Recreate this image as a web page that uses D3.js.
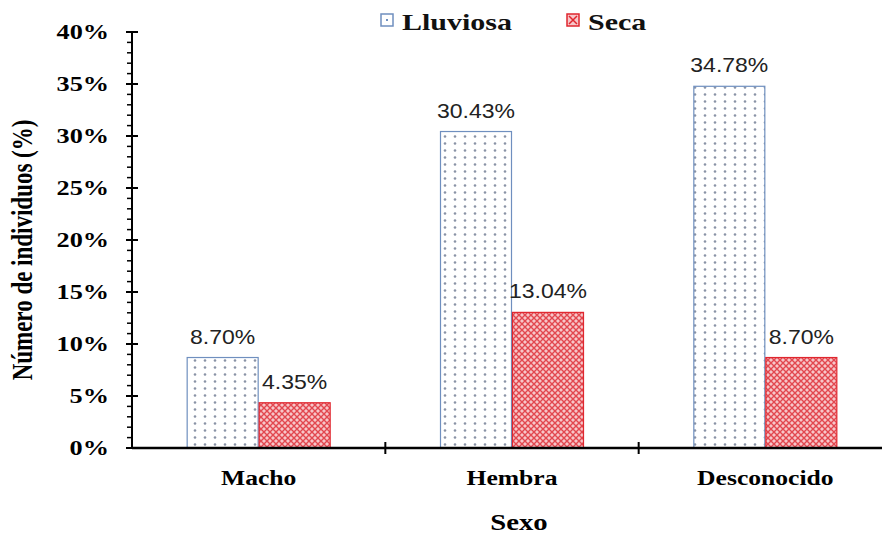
<!DOCTYPE html>
<meta charset="utf-8">
<html>
<head>
<script src="https://d3js.org/d3.v7.min.js"></script>
<style>
  body { margin: 0; background: #fff; }
  svg { display: block; }
  .serif { font-family: 'Liberation Serif', 'Times New Roman', serif; font-weight: bold; }
  .lbl { font-family: 'Liberation Sans', Arial, sans-serif; }
</style>
</head>
<body>
<div id="chart"></div>
<script>
// data
const categories = ["Macho", "Hembra", "Desconocido"];
const seasons = ["Lluviosa", "Seca"];
const lluviosa = [8.70, 30.43, 34.78];
const seca = [4.35, 13.04, 8.70];
const yTicks = [0, 5, 10, 15, 20, 25, 30, 35, 40];

const W = 882, H = 537;
const plotL = 132, plotR = 892, plotT = 32, plotB = 448;
const stretch = 1.25; // the original picture is stretched sideways

const svg = d3.select("#chart").append("svg")
  .attr("width", W).attr("height", H);

// text helper, stretched horizontally like the source image
function txt(parent, x0, y0, s, cls, size, anchor, sx) {
  return parent.append("text")
    .attr("transform", `translate(${x0},${y0}) scale(${sx || stretch},1)`)
    .attr("class", cls)
    .attr("text-anchor", anchor || "middle")
    .style("font-size", size + "px")
    .text(s);
}

// patterns
const defs = svg.append("defs");
const dots = defs.append("pattern")
  .attr("id", "dots").attr("patternUnits", "userSpaceOnUse")
  .attr("width", 10).attr("height", 7);
dots.append("rect").attr("width", 10).attr("height", 7).attr("fill", "#fff");
dots.append("circle").attr("cx", 5).attr("cy", 3.5).attr("r", 1.3).attr("fill", "#8a93a6");

const hatch = defs.append("pattern")
  .attr("id", "hatch").attr("patternUnits", "userSpaceOnUse")
  .attr("width", 6).attr("height", 6);
hatch.append("rect").attr("width", 6).attr("height", 6).attr("fill", "#f7c6c9");
hatch.append("path").attr("d", "M0,0 L6,6 M6,0 L0,6")
  .attr("stroke", "#e2474f").attr("stroke-width", 1.4);

const x = d3.scaleBand().domain(categories).range([plotL, plotR]);
const y = d3.scaleLinear().domain([0, 40]).range([plotB, plotT]);
const barW = 72;

const rows = categories.map((c, i) => ({ cat: c, vals: [lluviosa[i], seca[i]] }));
const styles = [
  { fill: "url(#dots)", stroke: "#6f8fbf" },
  { fill: "url(#hatch)", stroke: "#e0262e" }
];

// bars
const g = svg.append("g");
rows.forEach(r => {
  r.vals.forEach((v, j) => {
    const bx = x(r.cat) + x.bandwidth() / 2 - barW + j * barW;
    g.append("rect")
      .attr("x", bx + 0.5).attr("y", y(v))
      .attr("width", barW - 1).attr("height", y(0) - y(v))
      .attr("fill", styles[j].fill)
      .attr("stroke", styles[j].stroke).attr("stroke-width", 1.2);
    txt(g, bx + barW / 2, y(v) - 14, v.toFixed(2) + "%", "lbl", 20, "middle", 1.15)
      .attr("fill", "#222");
  });
});

// y axis
const yAxis = svg.append("g").attr("transform", `translate(${plotL},0)`);
yAxis.append("line").attr("x1", 0).attr("x2", 0).attr("y1", plotT).attr("y2", plotB)
  .attr("stroke", "#000").attr("stroke-width", 2);
d3.range(0, 41).forEach(t => {
  const major = t % 5 === 0;
  yAxis.append("line")
    .attr("x1", major ? -6 : -5).attr("x2", major ? 6 : 0)
    .attr("y1", y(t)).attr("y2", y(t))
    .attr("stroke", "#000").attr("stroke-width", major ? 2 : 1.5);
});
yTicks.forEach(d => txt(yAxis, -23, y(d) + 7, d + "%", "serif", 21, "end"));

// x axis
const xAxis = svg.append("g").attr("transform", `translate(0,${plotB})`);
xAxis.append("line").attr("x1", plotL).attr("x2", plotR).attr("y1", 0).attr("y2", 0)
  .attr("stroke", "#000").attr("stroke-width", 2.5);
categories.slice(1).forEach(c => {
  xAxis.append("line").attr("x1", x(c)).attr("x2", x(c)).attr("y1", -6).attr("y2", 6)
    .attr("stroke", "#000").attr("stroke-width", 2);
});
categories.forEach(d => txt(xAxis, x(d) + x.bandwidth() / 2, 37, d, "serif", 20.5));

// axis titles
txt(svg, 519, 530, "Sexo", "serif", 23);
svg.append("text")
  .attr("transform", `translate(32,250) scale(${stretch},1) rotate(-90)`)
  .attr("class", "serif")
  .attr("text-anchor", "middle")
  .style("font-size", "23px")
  .text("Número de individuos (%)");

// legend
const legX = [381, 567];
seasons.forEach((s, j) => {
  svg.append("rect")
    .attr("x", legX[j]).attr("y", 14).attr("width", 12).attr("height", 12)
    .attr("fill", j === 0 ? "#fff" : "#f7c6c9")
    .attr("stroke", styles[j].stroke).attr("stroke-width", 1.5);
  if (j === 0) {
    svg.append("rect").attr("x", legX[j] + 5).attr("y", 19).attr("width", 2).attr("height", 2).attr("fill", "#6f8fbf");
  } else {
    svg.append("path")
      .attr("d", `M${legX[j] + 2},16 L${legX[j] + 10},24 M${legX[j] + 10},16 L${legX[j] + 2},24`)
      .attr("stroke", "#e0262e").attr("stroke-width", 1.5);
  }
  txt(svg, legX[j] + 21, 30, s, "serif", 24, "start").attr("fill", "#111");
});
</script>
</body>
</html>
